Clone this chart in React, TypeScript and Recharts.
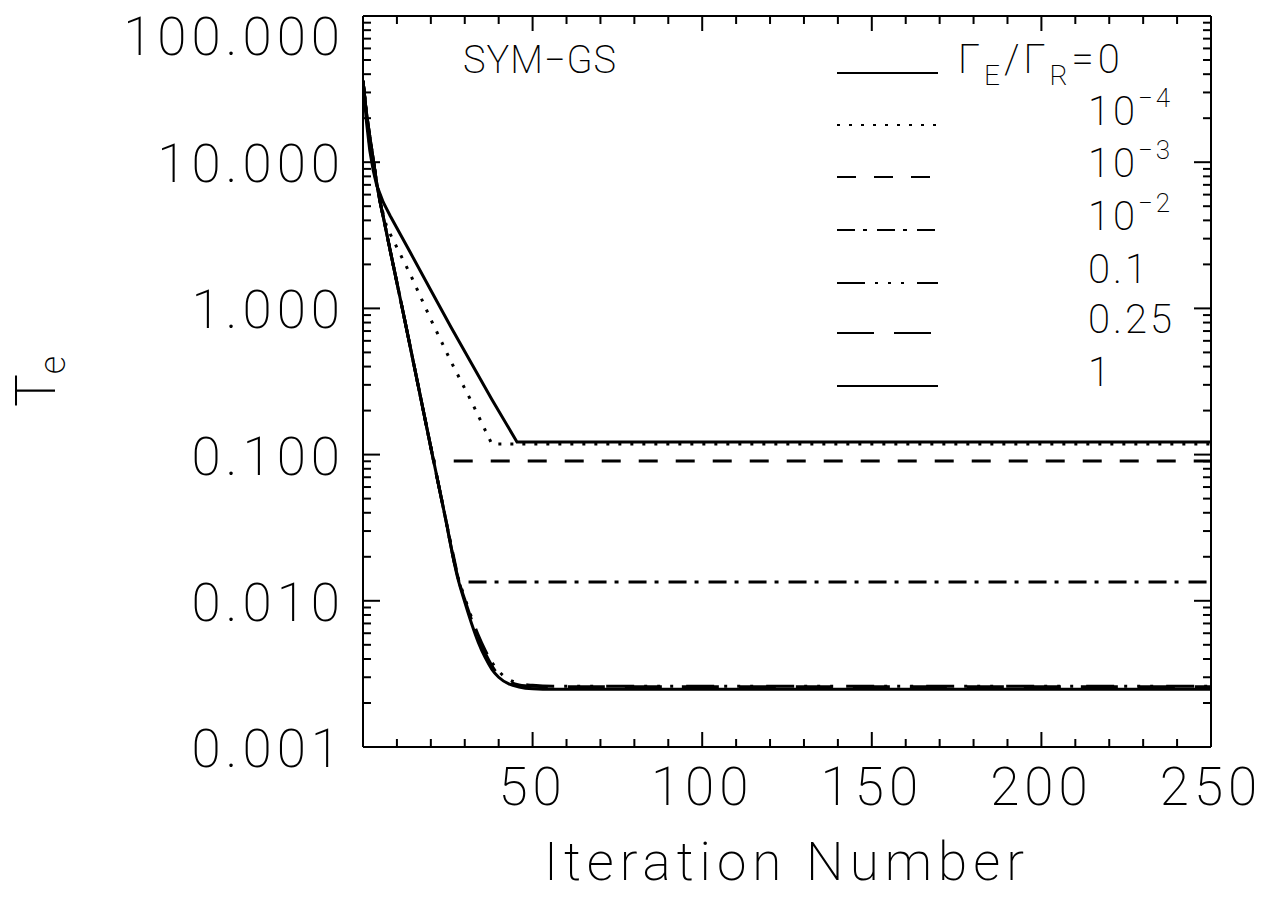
import { LineChart, Line, XAxis, YAxis } from 'recharts';

// iteration counts and T_e values
const steepIter = [0, 1, 2, 3, 4, 5, 6, 8, 12, 16, 20, 24, 28, 30, 32, 34, 36, 38, 40, 43, 46, 50, 56, 250];
const gammaOne = [36, 22, 15, 10.5, 7.3, 5.4, 4.2, 2.5, 0.9, 0.318, 0.112, 0.0398, 0.0141, 0.0098, 0.007, 0.0052, 0.0041, 0.0034, 0.003, 0.0027, 0.00257, 0.0025, 0.00248, 0.00248];
const gammaQuarter = [36, 22, 15, 10.5, 7.3, 5.4, 4.2, 2.5, 0.9, 0.318, 0.112, 0.0398, 0.0143, 0.0102, 0.0074, 0.0056, 0.0044, 0.0036, 0.0031, 0.0028, 0.00266, 0.0026, 0.00258, 0.00258];
const gammaTenth = [36, 22, 15, 10.5, 7.3, 5.4, 4.2, 2.5, 0.9, 0.318, 0.112, 0.0398, 0.0145, 0.0105, 0.0077, 0.0058, 0.0046, 0.0038, 0.0033, 0.0029, 0.00272, 0.00264, 0.0026, 0.0026];

const e2Iter = [0, 1, 2, 3, 4, 5, 6, 8, 12, 16, 20, 24, 28.3, 250];
const gammaE2 = [36, 22, 15, 10.5, 7.3, 5.4, 4.2, 2.5, 0.9, 0.318, 0.112, 0.0398, 0.01345, 0.01345];

const e3Iter = [0, 1, 2, 3, 4, 5, 6, 8, 12, 16, 20.8, 250];
const gammaE3 = [36, 22, 15, 10.5, 7.3, 5.4, 4.2, 2.5, 0.9, 0.318, 0.0904, 0.0904];

const e4Iter = [0, 1, 2, 3, 4, 5, 6, 7, 14, 20, 26, 32, 38, 250];
const gammaE4 = [36, 20, 13, 9.3, 7.2, 5.5, 4.4, 3.6, 1.7, 0.84, 0.43, 0.23, 0.118, 0.118];

const zeroIter = [0, 1, 2, 3, 4, 6, 8, 14, 20, 26, 32, 38, 45.4, 250];
const gammaZero = [36, 19, 12, 8.8, 7.0, 5.3, 4.3, 2.4, 1.33, 0.74, 0.42, 0.238, 0.122, 0.122];

const legendLabels = ['0', '10^-4', '10^-3', '10^-2', '0.1', '0.25', '1'];
const legendDashes = ['', '3 9', '19 18', '18 8 4 10', '28 10 3 10 3 10 3 13', '37 20', ''];

const xTickLabels = [50, 100, 150, 200, 250];
const yDecades = [0.001, 0.01, 0.1, 1, 10];

const FONT = "Roboto, 'DejaVu Sans', sans-serif";
const W = 200;

const toRows = (xs: number[], ys: number[]) => xs.map((t, i) => ({ t, v: ys[i] }));

const xTicks: number[] = [];
for (let t = 0; t <= 250; t += 10) xTicks.push(t);
const yTicks: number[] = [];
yDecades.forEach((d) => {
  for (let m = 1; m <= 9; m++) yTicks.push(Number((d * m).toPrecision(3)));
});
yTicks.push(100);

const isDecade = (v: number) => Math.abs(Math.log10(v) - Math.round(Math.log10(v))) < 1e-6;

function BottomTick({ x, y, payload }: any) {
  const v = payload.value;
  const major = v % 50 === 0;
  return (
    <g>
      <line x1={x} y1={y} x2={x} y2={y - (major ? 15 : 8)} stroke="#000" strokeWidth={2} />
      {major && xTickLabels.includes(v) && (
        <text x={x} y={y + 58} textAnchor="middle" fontFamily={FONT} fontWeight={W} fontSize={53} letterSpacing={5} fill="#000">
          {v}
        </text>
      )}
    </g>
  );
}

function TopTick({ x, y, payload }: any) {
  const major = payload.value % 50 === 0;
  return <line x1={x} y1={y} x2={x} y2={y + (major ? 15 : 8)} stroke="#000" strokeWidth={2} />;
}

function LeftTick({ x, y, payload }: any) {
  const v = payload.value;
  const major = isDecade(v);
  const base = v === 100 ? y + 39 : y + 20;
  return (
    <g>
      <line x1={x} y1={y} x2={x + (major ? 17 : 8)} y2={y} stroke="#000" strokeWidth={2} />
      {major && (
        <text x={x - 18} y={base} textAnchor="end" fontFamily={FONT} fontWeight={W} fontSize={53} letterSpacing={5} fill="#000">
          {v.toFixed(3)}
        </text>
      )}
    </g>
  );
}

function RightTick({ x, y, payload }: any) {
  const major = isDecade(payload.value);
  return <line x1={x} y1={y} x2={x - (major ? 17 : 8)} y2={y} stroke="#000" strokeWidth={2} />;
}

const legendRows = [73, 125, 177, 230, 283, 333, 386];

function Overlay() {
  return (
    <svg width={1265} height={909} style={{ position: 'absolute', left: 0, top: 0, pointerEvents: 'none' }}>
      <text x={463} y={73} fontFamily={FONT} fontWeight={W} fontSize={38} letterSpacing={1}>SYM−GS</text>
      {legendLabels.map((lab, i) => (
        <line key={'l' + i} x1={837} x2={938} y1={legendRows[i]} y2={legendRows[i]} stroke="#000" strokeWidth={2} strokeDasharray={legendDashes[i] || undefined} />
      ))}
      <text x={958} y={73} fontFamily={FONT} fontWeight={W} fontSize={40} letterSpacing={4}>
        Γ<tspan fontSize={28} dy={12}>E</tspan>
        <tspan fontSize={40} dy={-12}>/Γ</tspan>
        <tspan fontSize={28} dy={12}>R</tspan>
        <tspan fontSize={40} dy={-12}>=0</tspan>
      </text>
      {legendLabels.slice(1).map((lab, i) => {
        const [base, exp] = lab.split('^');
        return (
          <text key={'t' + i} x={1088} y={legendRows[i + 1]} fontFamily={FONT} fontWeight={W} fontSize={40} letterSpacing={3}>
            {base}
            {exp && <tspan fontSize={26} dy={-18}>{exp.replace('-', '−')}</tspan>}
          </text>
        );
      })}
      <text transform="translate(55, 407) rotate(-90)" fontFamily={FONT} fontWeight={W} fontSize={55}>
        T<tspan fontSize={36} dy={10}>e</tspan>
      </text>
      <text x={787} y={880} textAnchor="middle" fontFamily={FONT} fontWeight={W} fontSize={53} letterSpacing={6}>
        Iteration Number
      </text>
    </svg>
  );
}

export default function App() {
  return (
    <div style={{ position: 'absolute', left: 0, top: 0, width: 1265, height: 909, background: '#fff' }}>
      <LineChart width={1265} height={909} margin={{ top: 15, right: 0, bottom: 0, left: 0 }}>
        <XAxis xAxisId="b" dataKey="t" type="number" domain={[0, 250]} ticks={xTicks} interval={0}
          height={162} tickSize={0} tickMargin={0} tickLine={false} tick={<BottomTick />}
          axisLine={{ stroke: '#000', strokeWidth: 2 }} allowDataOverflow />
        <XAxis xAxisId="top" orientation="top" dataKey="t" type="number" domain={[0, 250]} ticks={xTicks} interval={0}
          height={1} tickSize={0} tickMargin={0} tickLine={false} tick={<TopTick />}
          axisLine={{ stroke: '#000', strokeWidth: 2 }} allowDataOverflow />
        <YAxis yAxisId="l" scale="log" type="number" domain={[0.001, 100]} ticks={yTicks} interval={0}
          width={363} tickSize={0} tickMargin={0} tickLine={false} tick={<LeftTick />}
          axisLine={{ stroke: '#000', strokeWidth: 2 }} allowDataOverflow />
        <YAxis yAxisId="r" orientation="right" scale="log" type="number" domain={[0.001, 100]} ticks={yTicks} interval={0}
          width={54} tickSize={0} tickMargin={0} tickLine={false} tick={<RightTick />}
          axisLine={{ stroke: '#000', strokeWidth: 2 }} allowDataOverflow />
        <Line xAxisId="b" yAxisId="l" data={toRows(zeroIter, gammaZero)} dataKey="v" type="linear" stroke="#000" strokeWidth={3} dot={false} isAnimationActive={false} />
        <Line xAxisId="b" yAxisId="l" data={toRows(e4Iter, gammaE4)} dataKey="v" type="linear" stroke="#000" strokeWidth={3} strokeDasharray={legendDashes[1]} dot={false} isAnimationActive={false} />
        <Line xAxisId="b" yAxisId="l" data={toRows(e3Iter, gammaE3)} dataKey="v" type="linear" stroke="#000" strokeWidth={3} strokeDasharray={legendDashes[2]} dot={false} isAnimationActive={false} />
        <Line xAxisId="b" yAxisId="l" data={toRows(e2Iter, gammaE2)} dataKey="v" type="linear" stroke="#000" strokeWidth={3} strokeDasharray={legendDashes[3]} dot={false} isAnimationActive={false} />
        <Line xAxisId="b" yAxisId="l" data={toRows(steepIter, gammaTenth)} dataKey="v" type="monotone" stroke="#000" strokeWidth={3} strokeDasharray={legendDashes[4]} dot={false} isAnimationActive={false} />
        <Line xAxisId="b" yAxisId="l" data={toRows(steepIter, gammaQuarter)} dataKey="v" type="monotone" stroke="#000" strokeWidth={3} strokeDasharray={legendDashes[5]} dot={false} isAnimationActive={false} />
        <Line xAxisId="b" yAxisId="l" data={toRows(steepIter, gammaOne)} dataKey="v" type="monotone" stroke="#000" strokeWidth={3} dot={false} isAnimationActive={false} />
      </LineChart>
      <Overlay />
    </div>
  );
}
